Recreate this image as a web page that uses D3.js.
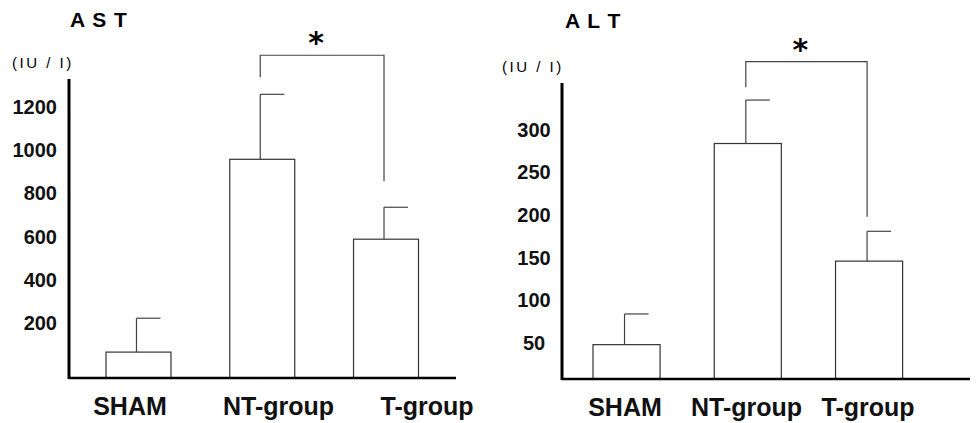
<!DOCTYPE html>
<html>
<head>
<meta charset="utf-8">
<script src="https://cdn.jsdelivr.net/npm/d3@7"></script>
<style>
  body { margin: 0; background: #fff; }
  svg { display: block; font-family: "Liberation Sans", Arial, sans-serif; }
</style>
</head>
<body>
<div id="chart"></div>
<script>
// groups on the x axis
var groups = ["SHAM", "NT-group", "T-group"];

// AST (IU/l): mean and upper error
var astMean = [65, 958, 588];
var astErr = [157, 301, 148];
var astTicks = [200, 400, 600, 800, 1000, 1200];
// significance bracket: left arm end, top, right arm end
var astBracket = [1338, 1440, 856];

// ALT (IU/l)
var altMean = [48, 284, 146];
var altErr = [36, 51, 35];
var altTicks = [50, 100, 150, 200, 250, 300];
var altBracket = [350, 380, 198];

var svg = d3.select("#chart")
  .append("svg")
    .attr("width", 978)
    .attr("height", 423);

// layout of each panel (pixels)
var panels = [
  { title: "A S T", mean: astMean, err: astErr, ticks: astTicks, bracket: astBracket,
    axisX: 69, axisEnd: 456, yDomain: [-55, 1330], yRange: [378, 79],
    barRange: [106, 418.5], barPad: 0.475, labelRange: [130, 427],
    titleX: 70, titleY: 27, unitX: 12, unitY: 68, tickAnchor: "end", tickX: -12 },
  { title: "A L T", mean: altMean, err: altErr, ticks: altTicks, bracket: altBracket,
    axisX: 562, axisEnd: 970, yDomain: [7.7, 355], yRange: [379, 83],
    barRange: [593, 902.6], barPad: 0.447, labelRange: [625, 868],
    titleX: 565, titleY: 28, unitX: 502, unitY: 72, tickAnchor: "middle", tickX: -28 }
];

panels.forEach(function(p) {
  var g = svg.append("g");

  var y = d3.scaleLinear().domain(p.yDomain).range(p.yRange);
  var x = d3.scaleBand().domain(groups).range(p.barRange)
      .paddingInner(p.barPad).paddingOuter(0);
  var xl = d3.scalePoint().domain(groups).range(p.labelRange);
  var base = y.range()[0];

  var rows = groups.map(function(k, i) {
    return { key: k, mean: p.mean[i], err: p.err[i] };
  });

  // bars
  g.selectAll("rect.bar")
    .data(rows)
    .enter()
    .append("rect")
      .attr("class", "bar")
      .attr("x", function(d) { return x(d.key); })
      .attr("y", function(d) { return y(d.mean); })
      .attr("width", x.bandwidth())
      .attr("height", function(d) { return base - y(d.mean); })
      .style("fill", "#fff")
      .style("stroke", "#333")
      .style("stroke-width", 1.2);

  // error bars (upper only, cap to the right)
  var eb = g.selectAll("g.err")
    .data(rows)
    .enter()
    .append("g")
      .attr("class", "err")
      .style("stroke", "#444")
      .style("stroke-width", 1.2);
  eb.append("line")
      .attr("x1", function(d) { return x(d.key) + x.bandwidth() / 2 - 2; })
      .attr("x2", function(d) { return x(d.key) + x.bandwidth() / 2 - 2; })
      .attr("y1", function(d) { return y(d.mean); })
      .attr("y2", function(d) { return y(d.mean + d.err); });
  eb.append("line")
      .attr("x1", function(d) { return x(d.key) + x.bandwidth() / 2 - 2; })
      .attr("x2", function(d) { return x(d.key) + x.bandwidth() / 2 + 22; })
      .attr("y1", function(d) { return y(d.mean + d.err); })
      .attr("y2", function(d) { return y(d.mean + d.err); });

  // significance bracket NT vs T
  var bx1 = x(groups[1]) + x.bandwidth() / 2 - 2;
  var bx2 = x(groups[2]) + x.bandwidth() / 2 - 2;
  g.append("path")
      .attr("d", "M" + bx1 + "," + y(p.bracket[0]) +
                 "V" + y(p.bracket[1]) +
                 "H" + bx2 +
                 "V" + y(p.bracket[2]))
      .style("fill", "none")
      .style("stroke", "#444")
      .style("stroke-width", 1.2);
  g.append("text")
      .attr("x", (bx1 + bx2) / 2 - 6)
      .attr("y", y(p.bracket[1]) - 2)
      .attr("text-anchor", "middle")
      .style("font-family", "DejaVu Sans")
      .style("font-size", "30px")
      .style("font-weight", "bold")
      .text("*");

  // y axis tick labels (no tick marks)
  var yAxis = g.append("g")
      .attr("transform", "translate(" + p.axisX + ",0)")
      .call(d3.axisLeft(y).tickValues(p.ticks).tickSize(0).tickFormat(d3.format("d")));
  yAxis.select(".domain").remove();
  yAxis.selectAll("text")
      .attr("x", p.tickX)
      .attr("text-anchor", p.tickAnchor)
      .style("font-family", "Liberation Sans, Arial, sans-serif")
      .style("font-size", "20px")
      .style("font-weight", "bold")
      .style("fill", "#111");

  // axis lines
  g.append("line")
      .attr("x1", p.axisX).attr("x2", p.axisX)
      .attr("y1", y.range()[1]).attr("y2", base + 1)
      .style("stroke", "#000").style("stroke-width", 3);
  g.append("line")
      .attr("x1", p.axisX).attr("x2", p.axisEnd)
      .attr("y1", base).attr("y2", base)
      .style("stroke", "#000").style("stroke-width", 2.5);

  // group labels
  g.selectAll("text.grp")
    .data(groups)
    .enter()
    .append("text")
      .attr("class", "grp")
      .attr("x", function(d) { return xl(d); })
      .attr("y", base + 37)
      .attr("text-anchor", "middle")
      .style("font-size", "25px")
      .style("font-weight", "bold")
      .style("fill", "#111")
      .text(function(d) { return d; });

  // title and unit
  g.append("text")
      .attr("x", p.titleX)
      .attr("y", p.titleY)
      .style("font-size", "21px")
      .style("font-weight", "bold")
      .style("letter-spacing", "1px")
      .text(p.title);
  g.append("text")
      .attr("x", p.unitX)
      .attr("y", p.unitY)
      .style("font-size", "15px")
      .style("letter-spacing", "2.5px")
      .text("(IU / I)");
});
</script>
</body>
</html>
